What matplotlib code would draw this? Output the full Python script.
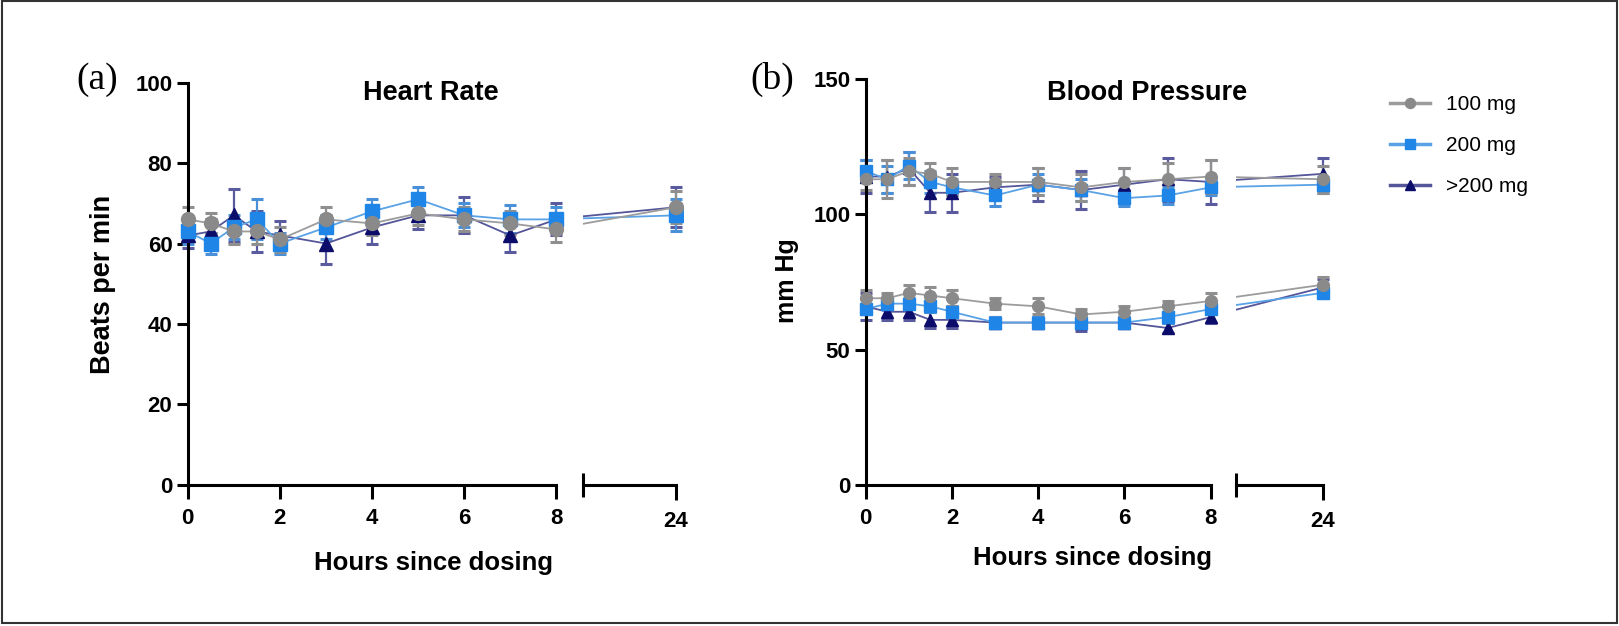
import numpy as np
import matplotlib
matplotlib.use("Agg")
import matplotlib.pyplot as plt
from matplotlib.patches import Rectangle

plt.rcParams['font.family'] = ['Liberation Sans', 'DejaVu Sans']

# time points (hours since dosing)
hours = [0, 0.5, 1, 1.5, 2, 3, 4, 5, 6, 7, 8, 24]
doses = ['100 mg', '200 mg', '>200 mg']

# heart rate (beats per min), mean and error
hr_100 = [66, 65, 63, 63, 61, 66, 65, 67.5, 66, 65, 63.5, 69]
hr_100_err = [3, 2.5, 3, 3, 3, 3, 3, 3, 3, 3, 3, 4]
hr_200 = [63, 60, 64, 66, 60, 64, 68, 71, 67, 66, 66, 67]
hr_200_err = [3, 2.5, 3, 5, 2.5, 3, 3, 3, 3, 3.5, 3, 4]
hr_gt200 = [62, 63, 67, 63, 62, 60, 64, 67, 67, 62, 66, 69]
hr_gt200_err = [3, 3, 6.5, 5, 3.5, 5, 4, 3.5, 4.5, 4, 4, 5]

# blood pressure (mm Hg), systolic
sys_100 = [113, 113, 116, 115, 112, 112, 112, 110, 112, 113, 114, 113]
sys_100_err = [4, 7, 5, 4, 5, 3, 5, 5, 5, 6, 6, 5]
sys_200 = [116, 113, 118, 112, 110, 107, 111, 109, 106, 107, 110, 111]
sys_200_err = [4, 5, 5, 4, 3, 4, 4, 4, 3, 3, 3, 3]
sys_gt200 = [114, 114, 117, 108, 108, 110, 111, 109, 111, 113, 112, 115]
sys_gt200_err = [6, 6, 6, 7, 7, 4, 6, 7, 6, 8, 8, 6]

# blood pressure (mm Hg), diastolic
dia_100 = [69, 69, 71, 70, 69, 67, 66, 63, 64, 66, 68, 74]
dia_100_err = [3, 2, 3, 3, 3, 2, 3, 2, 2, 2, 3, 3]
dia_200 = [65, 67, 67, 66, 64, 60, 60, 60, 60, 62, 65, 71]
dia_200_err = [2, 2, 2, 2, 2, 2, 2, 2, 2, 2, 2, 2]
dia_gt200 = [66, 64, 64, 61, 61, 60, 60, 60, 60, 58, 62, 73]
dia_gt200_err = [5, 3, 3, 3, 3, 2, 2, 3, 2, 2, 2, 3]

line_col = {'100 mg': '#9c9c9c', '200 mg': '#5aa2e6', '>200 mg': '#55559a'}
mark_col = {'100 mg': '#8a8a8a', '200 mg': '#1f86e8', '>200 mg': '#0c0c6a'}
err_col = {'100 mg': '#8f8f8f', '200 mg': '#4a90d8', '>200 mg': '#5a5a9e'}
markers = {'100 mg': 'o', '200 mg': 's', '>200 mg': '^'}

fig = plt.figure(figsize=(16.19, 6.26), dpi=100)

AX_LW = 2.2
TICK_FS = 16


def style_left(ax, ylim, yticks):
    ax.set_xlim(-0.3, 8.3)
    ax.set_ylim(*ylim)
    ax.spines['top'].set_visible(False)
    ax.spines['right'].set_visible(False)
    ax.spines['left'].set_position(('data', 0))
    ax.spines['bottom'].set_bounds(0, 8)
    for s in ('left', 'bottom'):
        ax.spines[s].set_linewidth(AX_LW)
    ax.set_xticks([0, 2, 4, 6, 8])
    ax.set_xticks([8], minor=True)
    ax.set_yticks(yticks)
    ax.tick_params(axis='x', which='major', direction='out', length=10,
                   width=AX_LW, labelsize=TICK_FS, pad=7)
    ax.tick_params(axis='x', which='minor', direction='inout', length=17,
                   width=AX_LW)
    ax.tick_params(axis='y', direction='out', length=8, width=AX_LW,
                   labelsize=TICK_FS, pad=3)
    for lab in ax.get_xticklabels() + ax.get_yticklabels():
        lab.set_fontweight('bold')
    ax.patch.set_visible(False)


def style_right(ax, ylim):
    ax.set_xlim(12, 25)
    ax.set_ylim(*ylim)
    for s in ('top', 'right', 'left'):
        ax.spines[s].set_visible(False)
    ax.spines['bottom'].set_bounds(12, 24)
    ax.spines['bottom'].set_linewidth(AX_LW)
    ax.set_yticks([])
    ax.set_xticks([24])
    ax.set_xticks([12], minor=True)
    ax.tick_params(axis='x', which='major', direction='out', length=11,
                   width=AX_LW, labelsize=TICK_FS, pad=8)
    ax.tick_params(axis='x', which='minor', direction='inout', length=17,
                   width=AX_LW)
    for lab in ax.get_xticklabels():
        lab.set_fontweight('bold')
    ax.patch.set_visible(False)


def draw(ax, x, y, e, dose, ms):
    ax.errorbar(x, y, yerr=e, fmt='none', ecolor=err_col[dose],
                elinewidth=1.6, capsize=4.5, capthick=2.2, zorder=2)
    ln, = ax.plot(x, y, color=line_col[dose], lw=1.3, marker=markers[dose],
                  ms=ms, mfc=mark_col[dose], mec=mark_col[dose],
                  label=dose, zorder=3)
    return ln


hr = {'100 mg': (hr_100, hr_100_err), '200 mg': (hr_200, hr_200_err),
      '>200 mg': (hr_gt200, hr_gt200_err)}
sysbp = {'100 mg': (sys_100, sys_100_err), '200 mg': (sys_200, sys_200_err),
         '>200 mg': (sys_gt200, sys_gt200_err)}
diabp = {'100 mg': (dia_100, dia_100_err), '200 mg': (dia_200, dia_200_err),
         '>200 mg': (dia_gt200, dia_gt200_err)}

bottom, h_a, h_b = 0.2255, 0.6425, 0.6480
axA = fig.add_axes([0.10741, bottom, 0.24484, h_a])
axA2 = fig.add_axes([0.35979, bottom, 0.06223, h_a])
axB = fig.add_axes([0.52672, bottom, 0.22908, h_b])
axB2 = fig.add_axes([0.76343, bottom, 0.05821, h_b])

n8 = hours.index(8) + 1
draw_order = ['>200 mg', '200 mg', '100 mg']
handles = {}
for d in draw_order:
    y, e = hr[d]
    draw(axA, hours[:n8], y[:n8], e[:n8], d, 10)
    draw(axA2, hours, y, e, d, 10)
    for data in (sysbp, diabp):
        y, e = data[d]
        handles[d] = draw(axB, hours[:n8], y[:n8], e[:n8], d, 8.5)
        draw(axB2, hours, y, e, d, 8.5)

style_left(axA, (0, 100), [0, 20, 40, 60, 80, 100])
style_right(axA2, (0, 100))
style_left(axB, (0, 150), [0, 50, 100, 150])
style_right(axB2, (0, 150))

# titles, labels
fig.text(0.2662, 0.851, 'Heart Rate', ha='center', va='center',
         fontsize=19.5, fontweight='bold')
fig.text(0.7085, 0.851, 'Blood Pressure', ha='center', va='center',
         fontsize=19.5, fontweight='bold')
fig.text(0.268, 0.101, 'Hours since dosing', ha='center', va='center',
         fontsize=18.5, fontweight='bold')
fig.text(0.6745, 0.108, 'Hours since dosing', ha='center', va='center',
         fontsize=18.5, fontweight='bold')
fig.text(0.0636, 0.546, 'Beats per min', ha='center', va='center',
         rotation=90, fontsize=19.5, fontweight='bold')
fig.text(0.486, 0.551, 'mm Hg', ha='center', va='center',
         rotation=90, fontsize=18, fontweight='bold')
fig.text(0.0599, 0.873, '(a)', ha='center', va='center', fontsize=27,
         family=['Liberation Serif', 'DejaVu Serif'])
fig.text(0.4768, 0.873, '(b)', ha='center', va='center', fontsize=27,
         family=['Liberation Serif', 'DejaVu Serif'])

leg = fig.legend([handles[d] for d in doses], doses, loc='upper left',
                 bbox_to_anchor=(0.847, 0.878), frameon=False, fontsize=15,
                 handlelength=1.9, handletextpad=0.8, labelspacing=1.05,
                 markerscale=0.85)
for ln in leg.get_lines():
    ln.set_linewidth(2.5)

# outer frame
fig.patches.append(Rectangle((0.001, 0.004), 0.998, 0.994, transform=fig.transFigure,
                             fill=False, edgecolor='#333333', lw=1.5))

fig.savefig('out.png', dpi=100)
